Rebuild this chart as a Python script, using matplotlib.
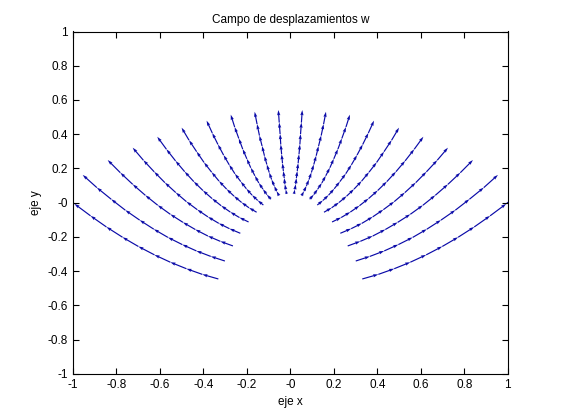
import numpy as np
import matplotlib
matplotlib.use('Agg')
import matplotlib.pyplot as plt

plt.rcParams['font.family'] = ['Liberation Sans', 'DejaVu Sans']
plt.rcParams['axes.unicode_minus'] = False

# puntos de cada linea de flechas (mitad izquierda, de dentro hacia fuera)
x_izq = [
    [-0.331, -0.405, -0.478, -0.552, -0.625, -0.699, -0.772, -0.846, -0.919, -0.993, -1.066],
    [-0.301, -0.366, -0.432, -0.497, -0.563, -0.628, -0.693, -0.759, -0.824, -0.890, -0.955],
    [-0.264, -0.322, -0.379, -0.437, -0.494, -0.552, -0.610, -0.667, -0.725, -0.782, -0.840],
    [-0.230, -0.280, -0.329, -0.379, -0.428, -0.478, -0.527, -0.577, -0.626, -0.676, -0.725],
    [-0.192, -0.234, -0.276, -0.318, -0.360, -0.402, -0.444, -0.486, -0.528, -0.570, -0.612],
    [-0.155, -0.190, -0.224, -0.259, -0.293, -0.328, -0.362, -0.397, -0.431, -0.466, -0.500],
    [-0.124, -0.150, -0.176, -0.202, -0.228, -0.255, -0.281, -0.307, -0.333, -0.359, -0.385],
    [-0.089, -0.108, -0.126, -0.145, -0.163, -0.182, -0.200, -0.219, -0.237, -0.256, -0.274],
    [-0.052, -0.063, -0.074, -0.086, -0.097, -0.108, -0.119, -0.130, -0.142, -0.153, -0.164],
    [-0.017, -0.021, -0.025, -0.028, -0.032, -0.036, -0.040, -0.044, -0.047, -0.051, -0.055],
]
y_izq = [
    [-0.446, -0.419, -0.386, -0.348, -0.305, -0.256, -0.202, -0.142, -0.077, -0.007, 0.069],
    [-0.341, -0.314, -0.282, -0.245, -0.203, -0.155, -0.102, -0.044, 0.020, 0.088, 0.162],
    [-0.253, -0.226, -0.195, -0.157, -0.115, -0.068, -0.015, 0.043, 0.107, 0.175, 0.249],
    [-0.179, -0.152, -0.121, -0.083, -0.041, 0.006, 0.059, 0.117, 0.180, 0.248, 0.321],
    [-0.113, -0.087, -0.055, -0.018, 0.024, 0.071, 0.123, 0.181, 0.244, 0.312, 0.385],
    [-0.056, -0.030, 0.001, 0.038, 0.079, 0.126, 0.178, 0.235, 0.298, 0.365, 0.438],
    [-0.014, 0.013, 0.044, 0.081, 0.123, 0.169, 0.221, 0.278, 0.340, 0.407, 0.479],
    [0.020, 0.047, 0.079, 0.115, 0.157, 0.204, 0.256, 0.313, 0.375, 0.442, 0.514],
    [0.041, 0.067, 0.098, 0.135, 0.176, 0.223, 0.274, 0.331, 0.392, 0.459, 0.531],
    [0.051, 0.077, 0.108, 0.144, 0.185, 0.231, 0.283, 0.340, 0.401, 0.468, 0.541],
]

fig = plt.figure(figsize=(5.61, 4.2), dpi=100)
ax = fig.add_axes([0.13, 0.11, 0.775, 0.815])

X, Y, U, V = [], [], [], []
for xs, ys in zip(x_izq, y_izq):
    xs = np.array(xs)
    ys = np.array(ys)
    # el campo es simetrico respecto al eje y
    for sx in (xs, -xs):
        X.append(sx[:-1]); Y.append(ys[:-1])
        U.append(np.diff(sx)); V.append(np.diff(ys))
X = np.concatenate(X); Y = np.concatenate(Y)
U = np.concatenate(U); V = np.concatenate(V)

ax.quiver(X, Y, U, V, angles='xy', scale_units='xy', scale=1,
          color='#0a0aa8', width=0.0027, headwidth=2.8, headlength=4.5,
          headaxislength=4)

ax.set_xlim(-1, 1)
ax.set_ylim(-1, 1)
ticks = np.arange(-1, 1.01, 0.2)
ax.set_xticks(ticks)
ax.set_yticks(ticks)
ax.set_xticklabels(['%g' % round(t, 1) for t in ticks])
ax.set_yticklabels(['%g' % round(t, 1) for t in ticks])
ax.tick_params(direction='in', top=True, right=True, labelsize=8.5, length=4, width=0.8)
for s in ax.spines.values():
    s.set_linewidth(0.8)

ax.set_title('Campo de desplazamientos w', fontsize=8.5)
ax.set_xlabel('eje x', fontsize=8.5)
ax.set_ylabel('eje y', fontsize=8.5)

fig.savefig('out.png', dpi=100)
